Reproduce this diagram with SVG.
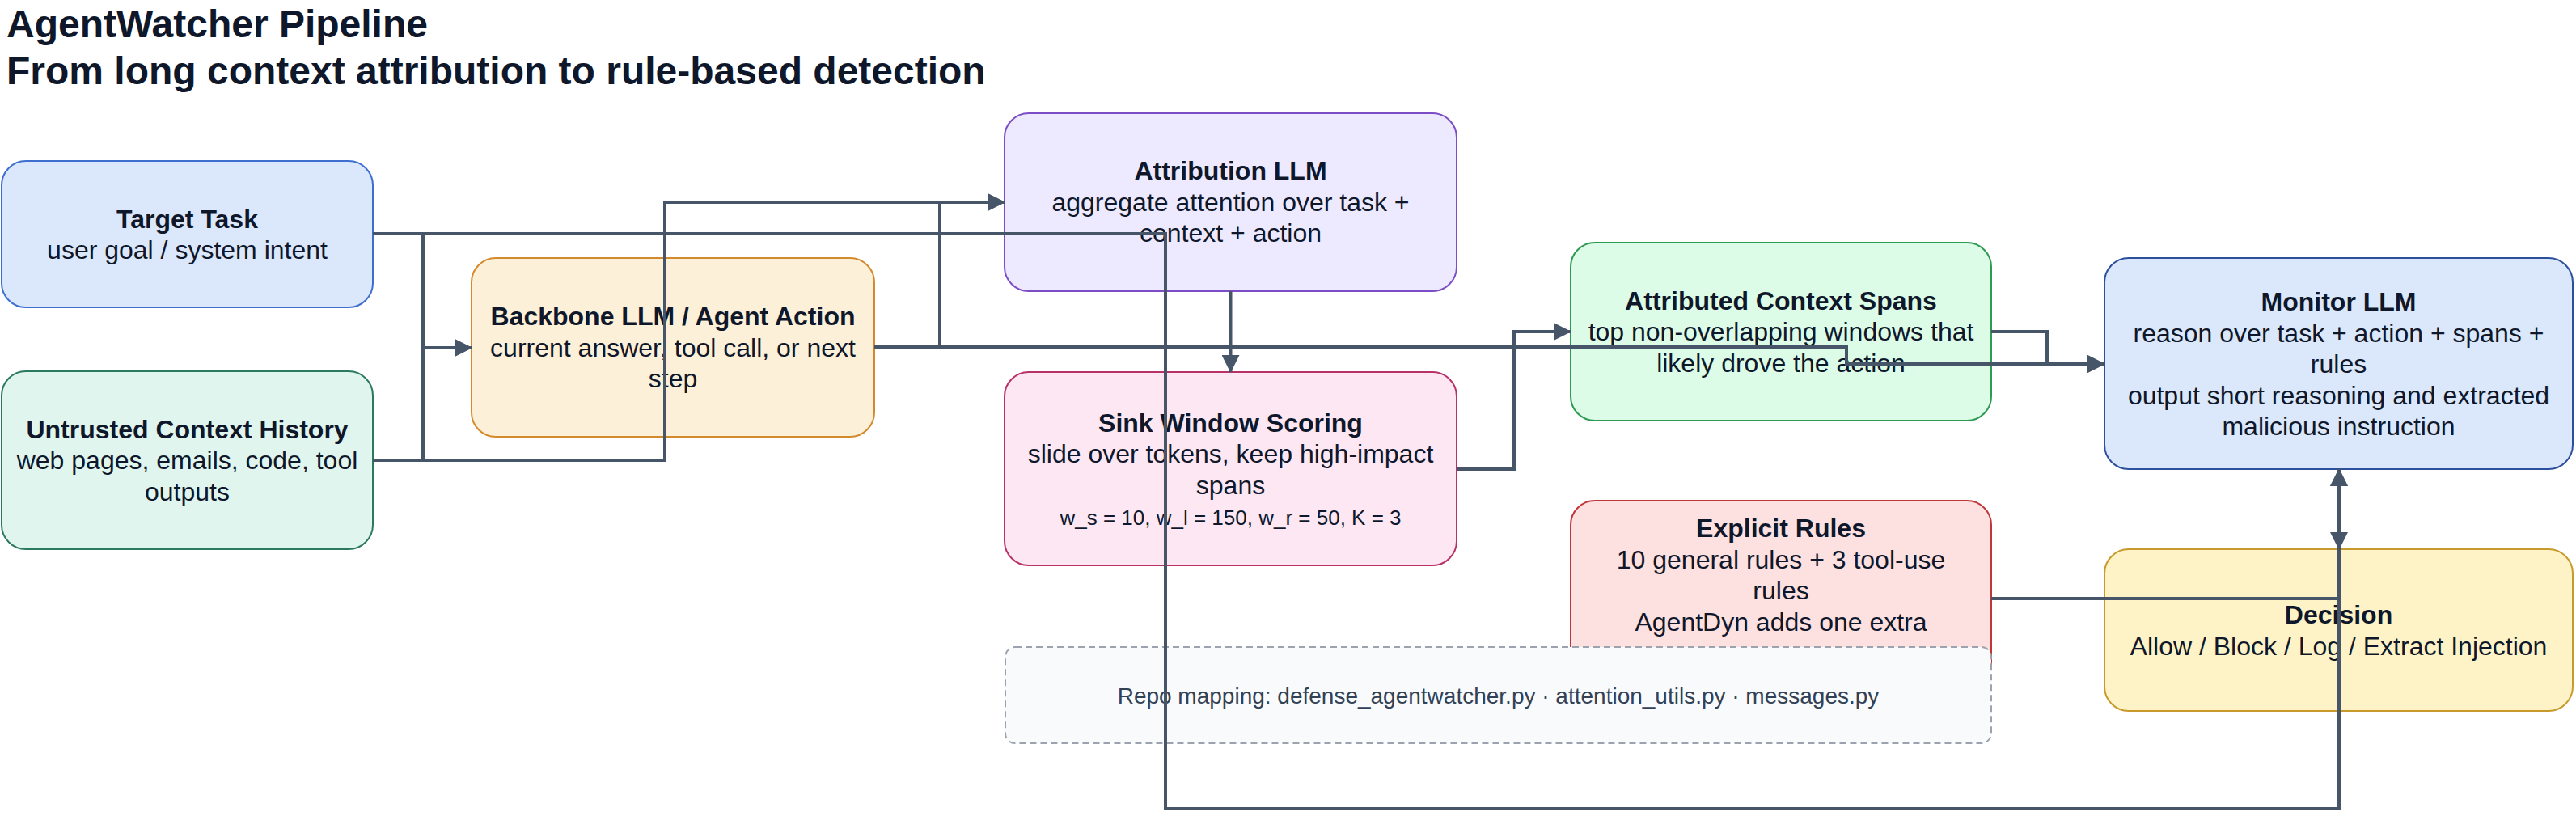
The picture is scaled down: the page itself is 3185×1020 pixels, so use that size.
<svg xmlns="http://www.w3.org/2000/svg" width="3185" height="1020" viewBox="0 0 3185 1020">
  <defs>
    <marker id="arrow" markerUnits="userSpaceOnUse" markerWidth="22" markerHeight="22" viewBox="0 0 22 22" refX="21" refY="11" orient="auto">
      <path d="M0,0 L22,11 L0,22 z" fill="#475569"/>
    </marker>
    <style>
      text { font-family: "Liberation Sans", Arial, Helvetica, sans-serif; fill: #0f172a; }
      .title { font-size: 48px; font-weight: bold; }
      .t { font-size: 32px; font-weight: bold; text-anchor: middle; }
      .b { font-size: 32px; text-anchor: middle; }
      .s { font-size: 26px; text-anchor: middle; }
      .repo { font-size: 28px; text-anchor: middle; fill: #334155; }
      .node rect { stroke-width: 2; }
      .edge { fill: none; stroke: #475569; stroke-width: 4; marker-end: url(#arrow); }
    </style>
  </defs>
  <rect x="0" y="0" width="3185" height="1020" fill="#ffffff"/>

  <g id="title">
    <text class="title" x="8" y="46">AgentWatcher Pipeline</text>
    <text class="title" x="8" y="104">From long context attribution to rule-based detection</text>
  </g>

  <g id="node-target" class="node">
    <rect x="2" y="199" width="459" height="181" rx="30" fill="#dbe8fb" stroke="#3e6fcf"/>
    <text class="t" x="231.5" y="282">Target Task</text>
    <text class="b" x="231.5" y="320">user goal / system intent</text>
  </g>

  <g id="node-untrusted" class="node">
    <rect x="2" y="459" width="459" height="220" rx="30" fill="#e0f5ee" stroke="#2b7a5f"/>
    <text class="t" x="231.5" y="541.5">Untrusted Context History</text>
    <text class="b" x="231.5" y="580">web pages, emails, code, tool</text>
    <text class="b" x="231.5" y="618.5">outputs</text>
  </g>

  <g id="node-backbone" class="node">
    <rect x="583" y="319" width="498" height="221" rx="30" fill="#fdf0d8" stroke="#d48a2c"/>
    <text class="t" x="832" y="402">Backbone LLM / Agent Action</text>
    <text class="b" x="832" y="440.5">current answer, tool call, or next</text>
    <text class="b" x="832" y="479">step</text>
  </g>

  <g id="node-attribution" class="node">
    <rect x="1242" y="140" width="559" height="220" rx="30" fill="#ede9fe" stroke="#7c4dc7"/>
    <text class="t" x="1521.5" y="222">Attribution LLM</text>
    <text class="b" x="1521.5" y="260.5">aggregate attention over task +</text>
    <text class="b" x="1521.5" y="299">context + action</text>
  </g>

  <g id="node-sink" class="node">
    <rect x="1242" y="460" width="559" height="239" rx="30" fill="#fce7f3" stroke="#b83268"/>
    <text class="t" x="1521.5" y="534">Sink Window Scoring</text>
    <text class="b" x="1521.5" y="572">slide over tokens, keep high-impact</text>
    <text class="b" x="1521.5" y="610.5">spans</text>
    <text class="s" x="1521.5" y="649">w_s = 10, w_l = 150, w_r = 50, K = 3</text>
  </g>

  <g id="node-spans" class="node">
    <rect x="1942" y="300" width="520" height="220" rx="30" fill="#dcfce7" stroke="#2e9a52"/>
    <text class="t" x="2202" y="382.5">Attributed Context Spans</text>
    <text class="b" x="2202" y="421">top non-overlapping windows that</text>
    <text class="b" x="2202" y="459.5">likely drove the action</text>
  </g>

  <g id="node-monitor" class="node">
    <rect x="2602" y="319" width="579" height="261" rx="30" fill="#dbe8fb" stroke="#2c4f9e"/>
    <text class="t" x="2891.5" y="384">Monitor LLM</text>
    <text class="b" x="2891.5" y="422.5">reason over task + action + spans +</text>
    <text class="b" x="2891.5" y="461">rules</text>
    <text class="b" x="2891.5" y="499.5">output short reasoning and extracted</text>
    <text class="b" x="2891.5" y="538">malicious instruction</text>
  </g>

  <g id="node-rules" class="node">
    <rect x="1942" y="619" width="520" height="230" rx="30" fill="#fde0e0" stroke="#c0373a"/>
    <text class="t" x="2202" y="664">Explicit Rules</text>
    <text class="b" x="2202" y="702.5">10 general rules + 3 tool-use</text>
    <text class="b" x="2202" y="741">rules</text>
    <text class="b" x="2202" y="779.5">AgentDyn adds one extra</text>
  </g>

  <g id="node-decision" class="node">
    <rect x="2602" y="679" width="579" height="200" rx="30" fill="#fef3c7" stroke="#c89a2c"/>
    <text class="t" x="2891.5" y="771">Decision</text>
    <text class="b" x="2891.5" y="809.5">Allow / Block / Log / Extract Injection</text>
  </g>

  <g id="node-repo">
    <rect x="1243" y="800" width="1219" height="119" rx="12" fill="#f8fafc" stroke="#9ca3af" stroke-width="2" stroke-dasharray="8 5"/>
    <text class="repo" x="1852.5" y="870">Repo mapping: defense_agentwatcher.py · attention_utils.py · messages.py</text>
  </g>

  <g id="connectors">
    <path class="edge" d="M461,289 H523 V430 H583"/>
    <path class="edge" d="M461,569 H523 V430 H583"/>
    <path class="edge" d="M461,569 H822 V250 H1242"/>
    <path class="edge" d="M1081,429 H1162 V250 H1242"/>
    <path class="edge" d="M1521.5,360 V460"/>
    <path class="edge" d="M1801,580 H1872 V410 H1942"/>
    <path class="edge" d="M2462,410 H2531 V450 H2602"/>
    <path class="edge" d="M1081,429 H2283 V450 H2602"/>
    <path class="edge" d="M461,289 H1441 V1000 H2892 V580"/>
    <path class="edge" d="M2462,740 H2892 V580"/>
    <path class="edge" d="M2892,580 V679"/>
  </g>
</svg>
